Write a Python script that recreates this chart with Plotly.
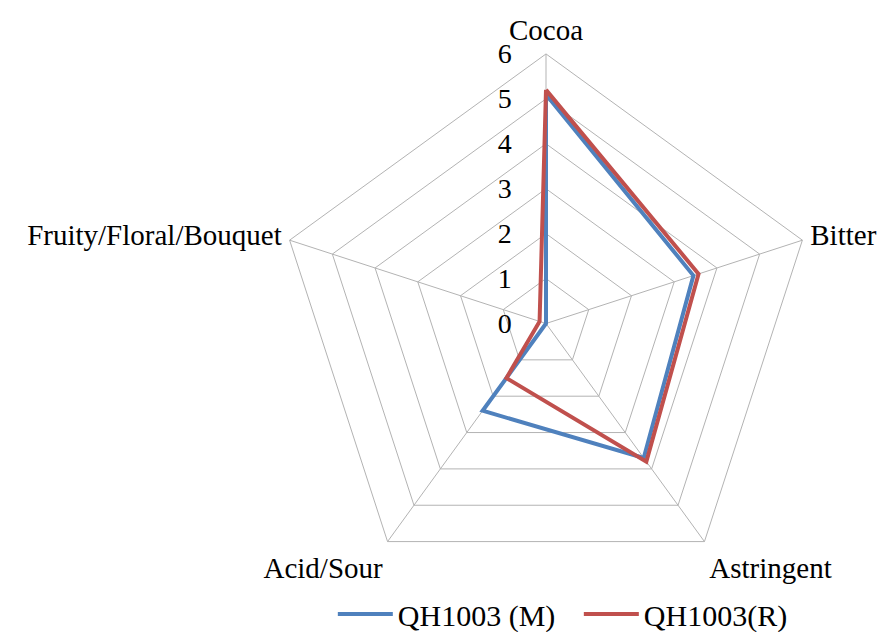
import plotly.graph_objects as go

categories = ["Cocoa", "Bitter", "Astringent", "Acid/Sour", "Fruity/Floral/Bouquet"]
series_m = [5.1, 3.45, 3.7, 2.4, 0.0]
series_r = [5.2, 3.57, 3.8, 1.5, 0.15]
names = ["QH1003 (M)", "QH1003(R)"]
radial_ticks = [0, 1, 2, 3, 4, 5, 6]

font_family = "Liberation Serif"

fig = go.Figure()
for vals, name, color in [(series_m, names[0], "#4F81BD"), (series_r, names[1], "#C0504D")]:
    fig.add_trace(go.Scatterpolar(
        r=vals + [vals[0]],
        theta=categories + [categories[0]],
        mode="lines",
        name=name,
        line=dict(color=color, width=4),
    ))

cx, cy, R = 538, 316, 270
W, H = 885, 632
fig.update_layout(
    width=W, height=H,
    paper_bgcolor="white", plot_bgcolor="white",
    margin=dict(l=0, r=0, t=0, b=0),
    font=dict(family=font_family, size=30, color="black"),
    polar=dict(
        domain=dict(x=[(cx - R) / W, (cx + R) / W], y=[1 - (cy + R) / H, 1 - (cy - R) / H]),
        bgcolor="white",
        gridshape="linear",
        angularaxis=dict(
            rotation=90, direction="clockwise",
            showline=True, linecolor="#b3b3b3", linewidth=1,
            gridcolor="#b3b3b3", gridwidth=1,
            ticks="outside", ticklen=2, tickcolor="rgba(0,0,0,0)",
            tickfont=dict(size=29, family=font_family),
        ),
        radialaxis=dict(
            range=[0, 6], tickvals=radial_ticks, ticktext=[str(v) for v in radial_ticks],
            angle=90, tickangle=90, side="counterclockwise",
            showline=False, gridcolor="#b3b3b3", gridwidth=1,
            ticks="outside", ticklen=24, tickcolor="rgba(0,0,0,0)",
            tickfont=dict(size=28, family=font_family),
        ),
    ),
    legend=dict(orientation="h", x=0.645, xanchor="center", y=0.04, yanchor="middle",
                bgcolor="rgba(0,0,0,0)",
                font=dict(size=30, family=font_family), itemwidth=55,
                entrywidth=176, entrywidthmode="pixels"),
)

fig.write_html("out.html")
